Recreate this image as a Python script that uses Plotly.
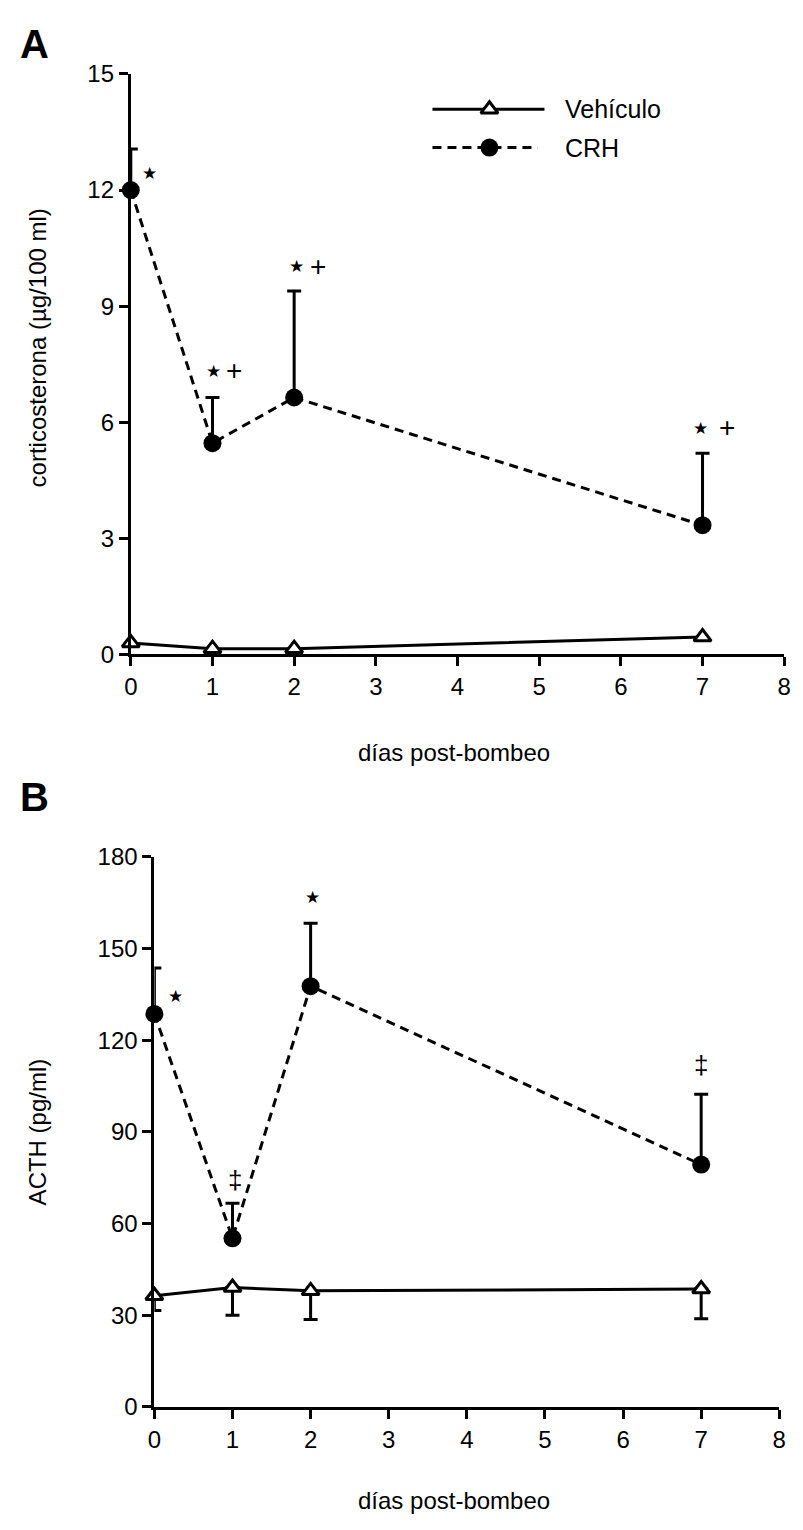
import plotly.graph_objects as go

# ---------------- data ----------------
days = [0, 1, 2, 7]
x_ticks = [0, 1, 2, 3, 4, 5, 6, 7, 8]

cort_veh = [0.30, 0.15, 0.15, 0.45]
cort_crh = [12.0, 5.46, 6.64, 3.34]
cort_crh_err = [1.06, 1.18, 2.75, 1.86]

acth_veh = [36.4, 39.1, 38.0, 38.6]
acth_veh_err = [4.8, 9.1, 9.4, 9.7]
acth_crh = [128.6, 55.2, 137.7, 79.3]
acth_crh_err = [15.0, 11.5, 20.6, 23.0]

cort_ticks = [0, 3, 6, 9, 12, 15]
acth_ticks = [0, 30, 60, 90, 120, 150, 180]

# significance marks (text, x, y)
cort_marks = [("★", 0.23, 12.43), ("★", 1.01, 7.33), ("+", 1.26, 7.33),
              ("★", 2.03, 10.03), ("+", 2.29, 10.03),
              ("★", 6.98, 5.86), ("+", 7.30, 5.86)]
acth_marks = [("★", 0.27, 134.5), ("★", 2.03, 167.0),
              ("‡", 1.03, 74.4), ("‡", 7.0, 112.0)]

series_names = ["Vehículo", "CRH"]

# ---------------- layout helpers ----------------
W, H = 803, 1530
FONT = "Liberation Sans, Arial, sans-serif"


def px_x(p):
    return p / W


def px_y(p):
    return (H - p) / H


zeros = [0, 0, 0, 0]

fig = go.Figure()

# ---- Panel A ----
fig.add_trace(go.Scatter(
    x=days, y=cort_veh, mode="lines+markers", xaxis="x", yaxis="y",
    line=dict(color="black", width=3),
    marker=dict(symbol="triangle-up", size=15, color="white",
                line=dict(color="black", width=3)),
    cliponaxis=False, showlegend=False))
fig.add_trace(go.Scatter(
    x=days, y=cort_crh, mode="lines+markers", xaxis="x", yaxis="y",
    line=dict(color="black", width=3, dash="9px,6px"),
    marker=dict(symbol="circle", size=18, color="black"),
    error_y=dict(type="data", symmetric=False, array=cort_crh_err,
                 arrayminus=zeros, color="black", thickness=3, width=7),
    cliponaxis=False, showlegend=False))

# ---- Panel B ----
fig.add_trace(go.Scatter(
    x=days, y=acth_veh, mode="lines+markers", xaxis="x2", yaxis="y2",
    line=dict(color="black", width=3),
    marker=dict(symbol="triangle-up", size=15, color="white",
                line=dict(color="black", width=3)),
    error_y=dict(type="data", symmetric=False, array=zeros,
                 arrayminus=acth_veh_err, color="black", thickness=3, width=7),
    cliponaxis=False, showlegend=False))
fig.add_trace(go.Scatter(
    x=days, y=acth_crh, mode="lines+markers", xaxis="x2", yaxis="y2",
    line=dict(color="black", width=3, dash="9px,6px"),
    marker=dict(symbol="circle", size=18, color="black"),
    error_y=dict(type="data", symmetric=False, array=acth_crh_err,
                 arrayminus=zeros, color="black", thickness=3, width=7),
    cliponaxis=False, showlegend=False))

# ---- custom legend (pixel overlay axis) ----
fig.add_trace(go.Scatter(
    x=[433, 547], y=[97, 97], mode="lines", xaxis="x3", yaxis="y3",
    line=dict(color="black", width=3), showlegend=False, hoverinfo="skip"))
fig.add_trace(go.Scatter(
    x=[491], y=[97], mode="markers", xaxis="x3", yaxis="y3",
    marker=dict(symbol="triangle-up", size=15, color="white",
                line=dict(color="black", width=3)),
    showlegend=False, hoverinfo="skip"))
fig.add_trace(go.Scatter(
    x=[433, 540], y=[136, 136], mode="lines", xaxis="x3", yaxis="y3",
    line=dict(color="black", width=3, dash="9px,6px"), showlegend=False,
    hoverinfo="skip"))
fig.add_trace(go.Scatter(
    x=[491], y=[136], mode="markers", xaxis="x3", yaxis="y3",
    marker=dict(symbol="circle", size=18, color="black"),
    showlegend=False, hoverinfo="skip"))

annotations = []
for name, yp in zip(series_names, [97, 136]):
    annotations.append(dict(text=name, x=px_x(566), y=px_y(yp), xref="paper",
                            yref="paper", xanchor="left", yanchor="middle",
                            showarrow=False, font=dict(size=25, family=FONT,
                                                       color="black")))

for t, xv, yv in cort_marks:
    annotations.append(dict(text=t, x=xv, y=yv, xref="x", yref="y",
                            xanchor="center", yanchor="middle",
                            showarrow=False,
                            font=dict(size=17 if t == "★" else 28,
                                      family="DejaVu Sans" if t == "★" else FONT,
                                      color="black")))
for t, xv, yv in acth_marks:
    annotations.append(dict(text=t, x=xv, y=yv, xref="x2", yref="y2",
                            xanchor="center", yanchor="middle",
                            showarrow=False,
                            font=dict(size=17 if t == "★" else 26,
                                      family="DejaVu Sans" if t == "★" else FONT,
                                      color="black")))


def paper_text(text, xp, yp, size, angle=0):
    return dict(text=text, x=px_x(xp), y=px_y(yp), xref="paper", yref="paper",
                xanchor="center", yanchor="middle", textangle=angle,
                showarrow=False, font=dict(size=size, family=FONT,
                                           color="black"))


# panel letters
annotations.append(paper_text("<b>A</b>", 28, 31, 40))
annotations.append(paper_text("<b>B</b>", 28, 797, 40))

# axis titles
annotations.append(paper_text("corticosterona (µg/100 ml)", 31, 340, 24, -90))
annotations.append(paper_text("ACTH (pg/ml)", 31, 1138, 24, -90))
annotations.append(paper_text("días post-bombeo", 455, 752, 24))
annotations.append(paper_text("días post-bombeo", 455, 1513, 24))

axis_common = dict(showgrid=False, zeroline=False, showline=True,
                   linecolor="black", linewidth=3, ticks="outside",
                   ticklen=9, tickwidth=3, tickcolor="black",
                   tickfont=dict(size=24, family=FONT, color="black"),
                   fixedrange=True)

fig.update_layout(
    width=W, height=H,
    margin=dict(l=0, r=0, t=0, b=0),
    paper_bgcolor="white", plot_bgcolor="rgba(0,0,0,0)",
    showlegend=False,
    xaxis=dict(domain=[px_x(126), px_x(791)], range=[0, 8], tickvals=x_ticks,
               anchor="y", **axis_common),
    yaxis=dict(domain=[px_y(652), px_y(61)], range=[0, 15],
               tickvals=cort_ticks, anchor="x", **axis_common),
    xaxis2=dict(domain=[px_x(150), px_x(786)], range=[0, 8], tickvals=x_ticks,
                anchor="y2", **axis_common),
    yaxis2=dict(domain=[px_y(1418), px_y(858)], range=[0, 180],
                tickvals=acth_ticks, anchor="x2", **axis_common),
    xaxis3=dict(domain=[0, 1], range=[0, W], visible=False, fixedrange=True,
                anchor="y3"),
    yaxis3=dict(domain=[0, 1], range=[H, 0], visible=False, fixedrange=True,
                anchor="x3"),
    annotations=annotations,
)

fig.write_html("out.html")
